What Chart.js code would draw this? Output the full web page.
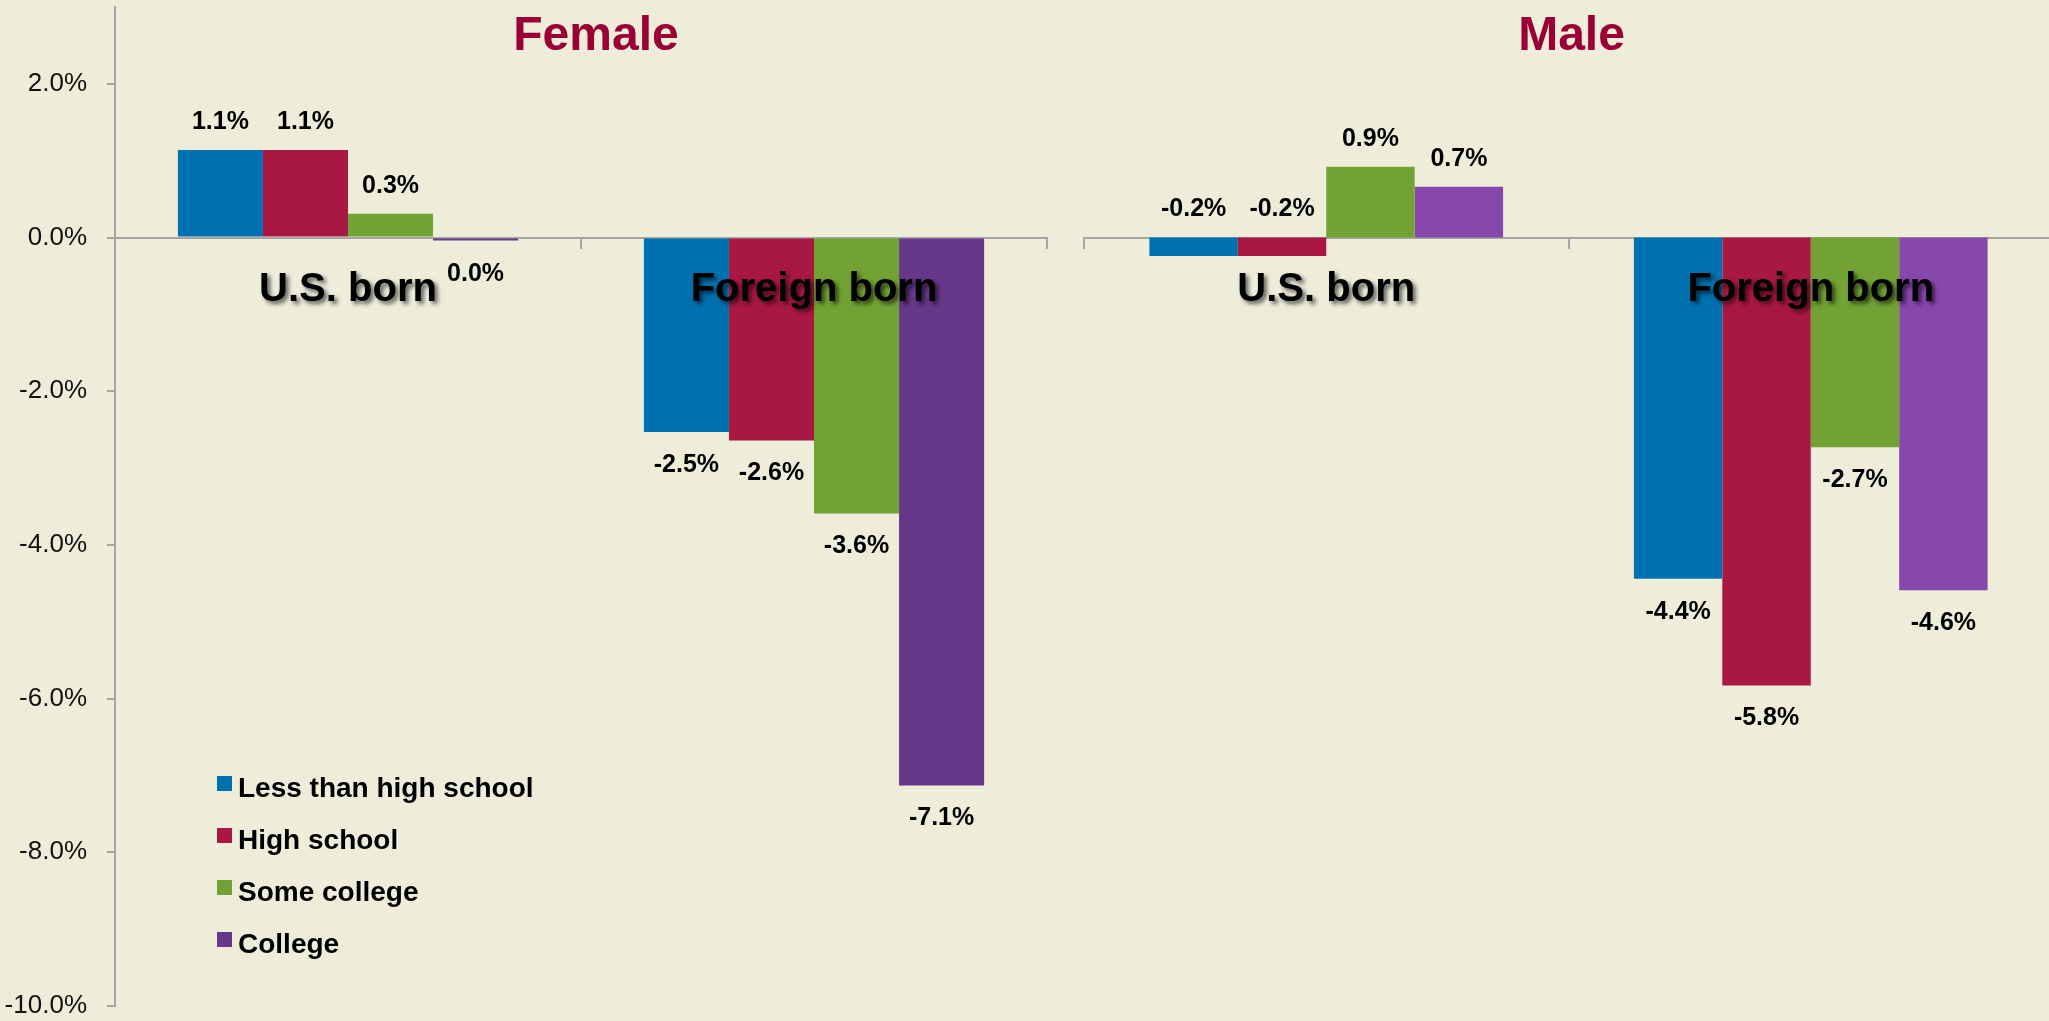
<!DOCTYPE html>
<html>
<head>
<meta charset="utf-8">
<script src="https://cdn.jsdelivr.net/npm/chart.js@4.4.0/dist/chart.umd.min.js"></script>
<style>
  html, body { margin: 0; padding: 0; background: #EEEDDA; }
  #wrap { position: relative; width: 2049px; height: 1021px; overflow: hidden; background: #EEEDDA; }
  .panel { position: absolute; top: 0; height: 1021px; }
  #female { left: 0; width: 1050px; }
  #male { left: 1081px; width: 974px; }
</style>
</head>
<body>
<div id="wrap">
  <div class="panel" id="female"><canvas id="femaleChart"></canvas></div>
  <div class="panel" id="male"><canvas id="maleChart"></canvas></div>
</div>
<script>
// Data
const categories = ['U.S. born', 'Foreign born'];
const educationLevels = ['Less than high school', 'High school', 'Some college', 'College'];

const femaleLessThanHS = [1.14, -2.53];
const femaleHighSchool = [1.14, -2.64];
const femaleSomeCollege = [0.31, -3.59];
const femaleCollege = [-0.04, -7.13];

const maleLessThanHS = [-0.24, -4.44];
const maleHighSchool = [-0.24, -5.83];
const maleSomeCollege = [0.92, -2.73];
const maleCollege = [0.66, -4.59];

const yTicks = [2, 0, -2, -4, -6, -8, -10];

const FONT = '"Liberation Sans", Arial, sans-serif';
const AXIS_GREY = '#A5A5A5';
Chart.defaults.font.family = FONT;

const fmt = v => (Math.abs(v) < 0.05 ? 0 : v).toFixed(1) + '%';

// Titles, category labels, value labels and legend
const decor = {
    id: 'decor',
    afterDatasetsDraw(chart, args, opts) {
        const { ctx, chartArea } = chart;
        const x = chart.scales.x;
        const y = chart.scales.y;
        const zero = y.getPixelForValue(0);
        ctx.save();

        // value labels
        ctx.font = 'bold 25px ' + FONT;
        ctx.fillStyle = '#000';
        ctx.textAlign = 'center';
        ctx.textBaseline = 'middle';
        chart.data.datasets.forEach((ds, di) => {
            chart.getDatasetMeta(di).data.forEach((bar, i) => {
                const v = ds.data[i];
                const above = v >= 0 || (opts.aboveAxis || []).some(p => p[0] === di && p[1] === i);
                const ly = above ? Math.min(bar.y, bar.base) - 28 : bar.y + 33;
                ctx.fillText(fmt(v), bar.x, ly);
            });
        });

        // category labels with shadow
        ctx.font = 'bold 40px ' + FONT;
        ctx.textBaseline = 'alphabetic';
        ctx.shadowColor = 'rgba(0,0,0,0.6)';
        ctx.shadowOffsetX = 3;
        ctx.shadowOffsetY = 3;
        ctx.shadowBlur = 4;
        chart.data.labels.forEach((lab, i) => {
            ctx.fillText(lab, x.getPixelForValue(i), zero + 63);
        });
        ctx.shadowColor = 'transparent';
        ctx.shadowBlur = 0;
        ctx.shadowOffsetX = 0;
        ctx.shadowOffsetY = 0;

        // panel title
        ctx.font = 'bold 48px ' + FONT;
        ctx.fillStyle = '#9A0036';
        ctx.fillText(opts.title, (chartArea.left + chartArea.right) / 2 + opts.titleShift, 50);

        // legend
        if (opts.legend) {
            const lg = opts.legend;
            ctx.font = 'bold 28px ' + FONT;
            ctx.textAlign = 'left';
            chart.data.datasets.forEach((ds, di) => {
                const top = lg.y + di * lg.gap;
                ctx.fillStyle = ds.backgroundColor;
                ctx.fillRect(lg.x, top, 15, 15);
                ctx.fillStyle = '#000';
                ctx.fillText(ds.label, lg.x + 21, top + 21);
            });
        }
        ctx.restore();
    }
};

function makeChart(canvasId, series, colors, extra) {
    return new Chart(document.getElementById(canvasId), {
        type: 'bar',
        data: {
            labels: categories,
            datasets: series.map((data, i) => ({
                label: educationLevels[i],
                data: data,
                backgroundColor: colors[i],
                borderWidth: 0,
                barPercentage: 1,
                categoryPercentage: 0.73
            }))
        },
        options: {
            responsive: true,
            maintainAspectRatio: false,
            animation: false,
            layout: { padding: extra.padding },
            scales: {
                x: {
                    type: 'category',
                    position: { y: 0 },
                    offset: true,
                    grid: {
                        display: true,
                        offset: true,
                        drawOnChartArea: false,
                        drawTicks: true,
                        tickLength: 10,
                        color: AXIS_GREY,
                        lineWidth: 2
                    },
                    border: { display: true, color: AXIS_GREY, width: 2 },
                    ticks: { display: false }
                },
                y: {
                    display: extra.showY,
                    min: -10,
                    max: 3,
                    bounds: 'data',
                    afterBuildTicks: scale => {
                        scale.ticks = yTicks.map(v => ({ value: v }));
                    },
                    afterFit: scale => {
                        scale.width = extra.showY ? 115 : 0;
                        scale.paddingTop = 0;
                        scale.paddingBottom = 0;
                    },
                    grid: {
                        display: true,
                        drawOnChartArea: false,
                        drawTicks: true,
                        tickLength: 8,
                        color: AXIS_GREY,
                        lineWidth: 2
                    },
                    border: { display: true, color: AXIS_GREY, width: 2 },
                    ticks: {
                        padding: 20,
                        color: '#111',
                        font: { size: 26 },
                        callback: v => v.toFixed(1) + '%'
                    }
                }
            },
            plugins: {
                legend: { display: false },
                tooltip: { enabled: false },
                decor: extra.decor
            }
        },
        plugins: [decor]
    });
}

makeChart('femaleChart',
    [femaleLessThanHS, femaleHighSchool, femaleSomeCollege, femaleCollege],
    ['#0071B0', '#A91842', '#72A233', '#67388A'],
    {
        padding: { top: 7, bottom: 15, left: 0, right: 3 },
        showY: true,
        decor: { title: 'Female', titleShift: 15, legend: { x: 217, y: 776, gap: 52 } }
    });

makeChart('maleChart',
    [maleLessThanHS, maleHighSchool, maleSomeCollege, maleCollege],
    ['#0071B0', '#A91842', '#72A233', '#8748AD'],
    {
        padding: { top: 7, bottom: 15, left: 3, right: 2 },
        showY: false,
        decor: { title: 'Male', titleShift: 3, aboveAxis: [[0, 0], [1, 0]] }
    });
</script>
</body>
</html>
